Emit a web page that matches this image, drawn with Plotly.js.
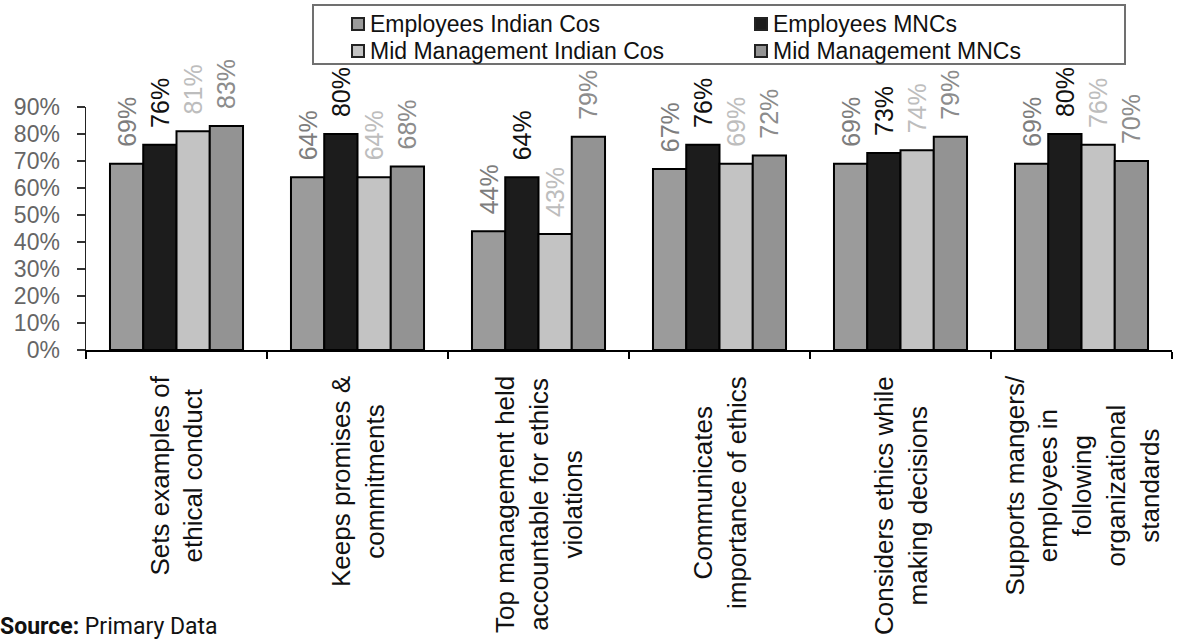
<!DOCTYPE html>
<html>
<head>
<meta charset="utf-8">
<script src="https://cdn.plot.ly/plotly-3.0.1.min.js"></script>
<style>
html,body{margin:0;padding:0;background:#fff;}
#chart{width:1178px;height:640px;}
</style>
</head>
<body>
<div id="chart"></div>
<script>
const categories = [
  "Sets examples of<br>ethical conduct",
  "Keeps promises &<br>commitments",
  "Top management held<br>accountable for ethics<br>violations",
  "Communicates<br>importance of ethics",
  "Considers ethics while<br>making decisions",
  "Supports mangers/<br>employees in<br>following<br>organizational<br>standards"
];
const seriesNames = ["Employees Indian Cos", "Employees MNCs", "Mid Management Indian Cos", "Mid Management MNCs"];
const employeesIndian = [0.69, 0.64, 0.44, 0.67, 0.69, 0.69];
const employeesMNC = [0.76, 0.80, 0.64, 0.76, 0.73, 0.80];
const midMgmtIndian = [0.81, 0.64, 0.43, 0.69, 0.74, 0.76];
const midMgmtMNC = [0.83, 0.68, 0.79, 0.72, 0.79, 0.70];
const yTickVals = [0, 0.1, 0.2, 0.3, 0.4, 0.5, 0.6, 0.7, 0.8, 0.9];
const sourceLabel = "<b>Source:</b> Primary Data";

const FONT = "Liberation Sans, Arial, Helvetica, sans-serif";
const fills = ["#9b9b9b", "#1c1c1c", "#c3c3c3", "#939393"];
const labelColors = ["#7d7d7d", "#111111", "#bdbdbd", "#8c8c8c"];
const values = [employeesIndian, employeesMNC, midMgmtIndian, midMgmtMNC];

// plot-area geometry (pixels)
const M = {l: 86, r: 6, t: 107, b: 290};
const PW = 1178 - M.l - M.r, PH = 640 - M.t - M.b;
const px = v => (v - M.l) / PW;          // pixel x -> paper x
const py = v => (640 - M.b - v) / PH;    // pixel y -> paper y

const traces = values.map((v, i) => ({
  type: "bar",
  name: seriesNames[i],
  x: categories,
  y: v,
  marker: {color: fills[i], line: {color: "#000", width: 2}},
  text: v.map(d => "\u00a0\u00a0" + Math.round(d * 100) + "%"),
  textposition: "outside",
  textangle: -90,
  constraintext: "none",
  cliponaxis: false,
  outsidetextfont: {family: FONT, size: 25, color: labelColors[i]},
  hoverinfo: "none",
  showlegend: false
}));

const annotations = categories.map(c => ({
  x: c, xref: "x",
  y: 0, yref: "paper",
  yanchor: "top", xanchor: "center",
  yshift: -24,
  text: c,
  textangle: -90,
  showarrow: false,
  align: "center",
  font: {family: FONT, size: 26, color: "#111"}
}));
annotations.push({
  x: px(-2), xref: "paper", xanchor: "left",
  y: py(611), yref: "paper", yanchor: "top",
  text: sourceLabel, showarrow: false, align: "left",
  font: {family: "Liberation Sans Narrow, Roboto, sans-serif", size: 23, color: "#111"}
});

// legend box: two columns, two rows
const shapes = [{
  type: "rect", xref: "paper", yref: "paper",
  x0: px(313), x1: px(1125), y0: py(5), y1: py(64),
  line: {color: "#707070", width: 2}, fillcolor: "rgba(0,0,0,0)"
}];
const colX = [352, 755], rowY = [24, 51];
seriesNames.forEach((name, i) => {
  const cx = colX[i % 2], cy = rowY[Math.floor(i / 2)];
  shapes.push({
    type: "rect", xref: "paper", yref: "paper",
    x0: px(cx), x1: px(cx + 12), y0: py(cy - 6), y1: py(cy + 6),
    line: {color: "#222", width: 2}, fillcolor: fills[i]
  });
  annotations.push({
    x: px(cx + 16), xref: "paper", xanchor: "left",
    y: py(cy), yref: "paper", yanchor: "middle",
    text: name, showarrow: false,
    font: {family: FONT, size: 23, color: "#111"}
  });
});

const layout = {
  width: 1178, height: 640,
  margin: M,
  paper_bgcolor: "#fff", plot_bgcolor: "#fff",
  barmode: "group",
  bargap: 0.265,
  bargroupgap: 0,
  showlegend: false,
  xaxis: {
    type: "category",
    showticklabels: false,
    showline: true, linecolor: "#000", linewidth: 1.5,
    ticks: "outside", tickson: "boundaries", ticklen: 7, tickcolor: "#000", tickwidth: 1.5,
    showgrid: false, zeroline: false, fixedrange: true
  },
  yaxis: {
    range: [0, 0.9],
    tickvals: yTickVals,
    tickformat: ".0%",
    showline: true, linecolor: "#222", linewidth: 1.5,
    ticks: "outside", ticklen: 8, tickcolor: "#333", tickwidth: 1.5,
    ticklabelstandoff: 12,
    showgrid: false, zeroline: false,
    tickfont: {family: FONT, size: 23, color: "#666"},
    fixedrange: true
  },
  shapes: shapes,
  annotations: annotations
};

Plotly.newPlot("chart", traces, layout, {displayModeBar: false, staticPlot: true});
</script>
</body>
</html>
